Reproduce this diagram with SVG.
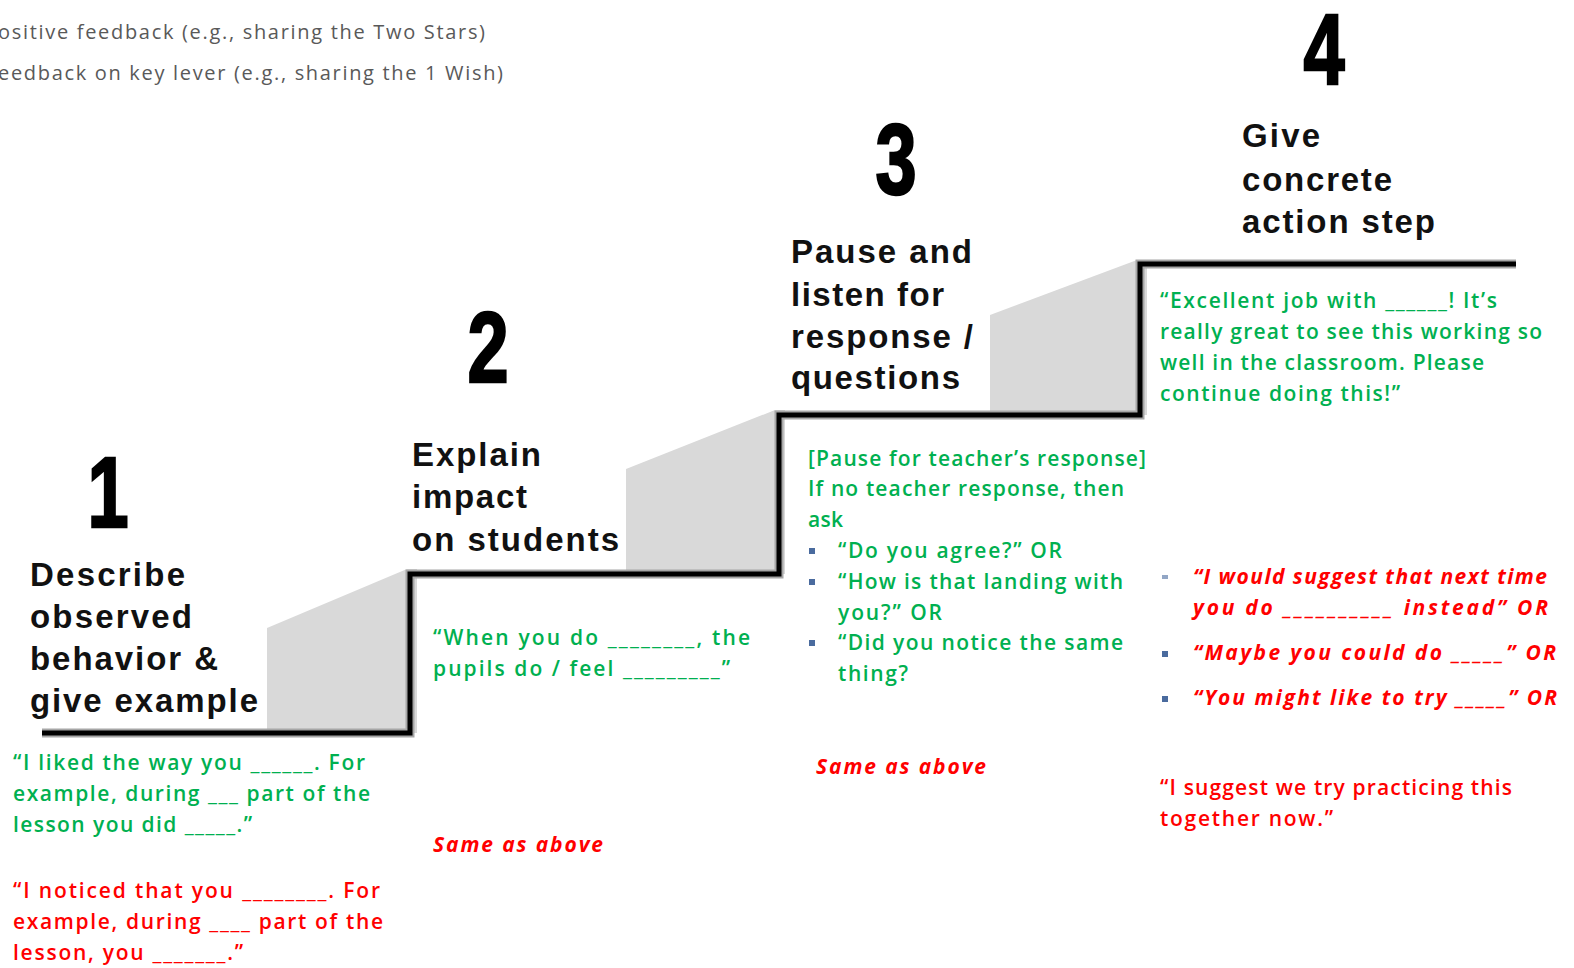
<svg xmlns="http://www.w3.org/2000/svg" width="1574" height="968" viewBox="0 0 1574 968">
  <style>
    .note { font-family: "Open Sans", "Liberation Sans", sans-serif; font-size: 20px; fill: #595959; }
    .num { font-family: "Liberation Sans", Arial, sans-serif; font-weight: bold; font-size: 100px; fill: #000; stroke: #000; stroke-width: 2.5; text-anchor: middle; }
    .label { font-family: "Liberation Sans", Arial, sans-serif; font-weight: bold; font-size: 33px; fill: #111; }
    .g { font-family: "Open Sans", "Liberation Sans", sans-serif; font-weight: 600; font-size: 21px; fill: #00B050; }
    .r { font-family: "Open Sans", "Liberation Sans", sans-serif; font-weight: 600; font-size: 21px; fill: #FF0000; }
    .ri { font-family: "Open Sans", "Liberation Sans", sans-serif; font-weight: 700; font-style: italic; font-size: 21px; fill: #FF0000; }
    .shade { fill: #D9D9D9; }
    .stair-halo { fill: none; stroke: #A6A6A6; stroke-width: 9; stroke-linejoin: miter; }
    .stair { fill: none; stroke: #000; stroke-width: 5; stroke-linejoin: miter; }
    .bullet { fill: #4A6B9E; }
  </style>

  <rect width="1574" height="968" fill="#fff"/>

  <!-- legend lines at top left -->
  <g id="legend">
    <text class="note" x="-2" y="39" textLength="487">ositive feedback (e.g., sharing the Two Stars)</text>
    <text class="note" x="-2" y="80" textLength="505">eedback on key lever (e.g., sharing the 1 Wish)</text>
  </g>

  <!-- grey risers behind each step -->
  <g id="shading">
    <polygon class="shade" points="267,628 407,569 417,569 417,733 267,733"/>
    <polygon class="shade" points="626,469 775,410 785,410 785,574 626,574"/>
    <polygon class="shade" points="990,315 1137,260 1147,260 1147,415 990,415"/>
  </g>

  <!-- staircase outline -->
  <g id="connectors">
    <path class="stair-halo" d="M 42 733 H 410 V 574 H 779 V 415 H 1140 V 264 H 1516"/>
    <path class="stair" d="M 42 733 H 410 V 574 H 779 V 415 H 1140 V 264 H 1516"/>
  </g>

  <!-- step 1 -->
  <g id="step1">
    <text class="num" transform="translate(108,527) scale(0.74,1)">1</text>
    <text class="label" x="30" y="586" textLength="155">Describe</text>
    <text class="label" x="30" y="628" textLength="162">observed</text>
    <text class="label" x="30" y="670" textLength="188">behavior &amp;</text>
    <text class="label" x="30" y="712" textLength="228">give example</text>
    <text class="g" x="13" y="770" textLength="352">“I liked the way you ______. For</text>
    <text class="g" x="13" y="801" textLength="357">example, during ___ part of the</text>
    <text class="g" x="13" y="832" textLength="239">lesson you did _____.”</text>
    <text class="r" x="13" y="898" textLength="367">“I noticed that you  ________. For</text>
    <text class="r" x="13" y="929" textLength="370">example, during ____ part of the</text>
    <text class="r" x="13" y="960" textLength="230">lesson, you _______.”</text>
  </g>

  <!-- step 2 -->
  <g id="step2">
    <text class="num" transform="translate(488,382) scale(0.74,1)">2</text>
    <text class="label" x="412" y="466" textLength="129">Explain</text>
    <text class="label" x="412" y="508" textLength="115">impact</text>
    <text class="label" x="412" y="551" textLength="207">on students</text>
    <text class="g" x="433" y="645" textLength="317">“When you do ________, the</text>
    <text class="g" x="433" y="676" textLength="297">pupils do / feel _________”</text>
    <text class="ri" x="433" y="852" textLength="170">Same as above</text>
  </g>

  <!-- step 3 -->
  <g id="step3">
    <text class="num" transform="translate(896,194) scale(0.74,1)">3</text>
    <text class="label" x="791" y="263" textLength="181">Pause and</text>
    <text class="label" x="791" y="306" textLength="153">listen for</text>
    <text class="label" x="791" y="348" textLength="182">response /</text>
    <text class="label" x="791" y="389" textLength="169">questions</text>
    <text class="g" x="808" y="466" textLength="338">[Pause for teacher’s response]</text>
    <text class="g" x="808" y="496" textLength="316">If no teacher response, then</text>
    <text class="g" x="808" y="527" textLength="35">ask</text>
    <rect class="bullet" x="809" y="548" width="6" height="6"/>
    <rect class="bullet" x="809" y="579" width="6" height="6"/>
    <rect class="bullet" x="809" y="640" width="6" height="6"/>
    <text class="g" x="838" y="558" textLength="224">“Do you agree?”  OR</text>
    <text class="g" x="838" y="589" textLength="285">“How is that landing with</text>
    <text class="g" x="838" y="620" textLength="104">you?” OR</text>
    <text class="g" x="838" y="650" textLength="285">“Did you notice the same</text>
    <text class="g" x="838" y="681" textLength="70">thing?</text>
    <text class="ri" x="816" y="774" textLength="170">Same as above</text>
  </g>

  <!-- step 4 -->
  <g id="step4">
    <text class="num" transform="translate(1324,84) scale(0.74,1)">4</text>
    <text class="label" x="1242" y="147" textLength="78">Give</text>
    <text class="label" x="1242" y="191" textLength="150">concrete</text>
    <text class="label" x="1242" y="233" textLength="193">action step</text>
    <text class="g" x="1160" y="308" textLength="337">“Excellent job with ______! It’s</text>
    <text class="g" x="1160" y="339" textLength="382">really great to see this working so</text>
    <text class="g" x="1160" y="370" textLength="324">well in the classroom. Please</text>
    <text class="g" x="1160" y="401" textLength="240">continue doing this!”</text>
    <rect class="bullet" x="1162" y="575" width="6" height="4" opacity="0.6"/>
    <rect class="bullet" x="1162" y="651" width="6" height="6"/>
    <rect class="bullet" x="1162" y="696" width="6" height="6"/>
    <text class="ri" x="1193" y="584" textLength="354">“I would suggest that next time</text>
    <text class="ri" x="1193" y="615" textLength="355">you do __________ instead”   OR</text>
    <text class="ri" x="1193" y="660" textLength="363">“Maybe you could do _____” OR</text>
    <text class="ri" x="1193" y="705" textLength="364">“You might like to try _____” OR</text>
    <text class="r" x="1160" y="795" textLength="352">“I suggest we try practicing this</text>
    <text class="r" x="1160" y="826" textLength="173">together now.”</text>
  </g>
</svg>
